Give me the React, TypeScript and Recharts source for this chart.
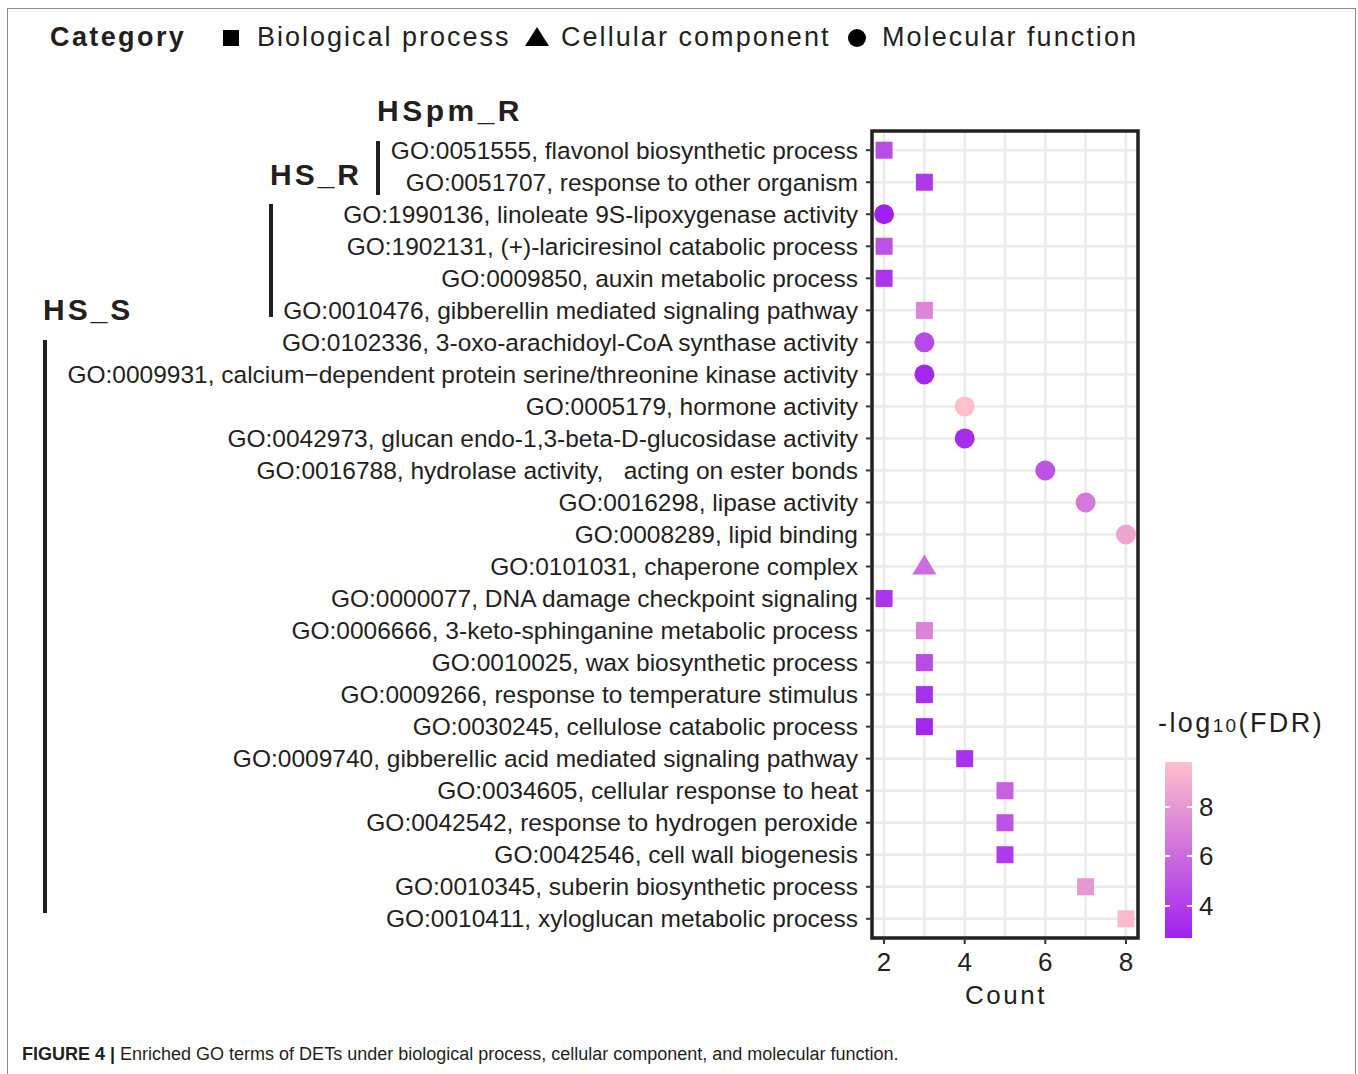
import React from 'react';
import { ScatterChart, Scatter, XAxis, YAxis, CartesianGrid, ReferenceArea } from 'recharts';

// GO terms, top to bottom
const terms = [
  'GO:0051555, flavonol biosynthetic process',
  'GO:0051707, response to other organism',
  'GO:1990136, linoleate 9S-lipoxygenase activity',
  'GO:1902131, (+)-lariciresinol catabolic process',
  'GO:0009850, auxin metabolic process',
  'GO:0010476, gibberellin mediated signaling pathway',
  'GO:0102336, 3-oxo-arachidoyl-CoA synthase activity',
  'GO:0009931, calcium\u2212dependent protein serine/threonine kinase activity',
  'GO:0005179, hormone activity',
  'GO:0042973, glucan endo-1,3-beta-D-glucosidase activity',
  'GO:0016788, hydrolase activity,   acting on ester bonds',
  'GO:0016298, lipase activity',
  'GO:0008289, lipid binding',
  'GO:0101031, chaperone complex',
  'GO:0000077, DNA damage checkpoint signaling',
  'GO:0006666, 3-keto-sphinganine metabolic process',
  'GO:0010025, wax biosynthetic process',
  'GO:0009266, response to temperature stimulus',
  'GO:0030245, cellulose catabolic process',
  'GO:0009740, gibberellic acid mediated signaling pathway',
  'GO:0034605, cellular response to heat',
  'GO:0042542, response to hydrogen peroxide',
  'GO:0042546, cell wall biogenesis',
  'GO:0010345, suberin biosynthetic process',
  'GO:0010411, xyloglucan metabolic process',
];

const counts = [2, 3, 2, 2, 2, 3, 3, 3, 4, 4, 6, 7, 8, 3, 2, 3, 3, 3, 3, 4, 5, 5, 5, 7, 8];

// BP = biological process, CC = cellular component, MF = molecular function
const categories = [
  'BP', 'BP', 'MF', 'BP', 'BP', 'BP', 'MF', 'MF', 'MF', 'MF', 'MF', 'MF', 'MF',
  'CC', 'BP', 'BP', 'BP', 'BP', 'BP', 'BP', 'BP', 'BP', 'BP', 'BP', 'BP',
];

// -log10(FDR)
const fdr = [
  4.6, 3.8, 2.7, 4.9, 3.6, 7.2, 4.5, 3.0, 9.8, 3.2, 4.9, 6.6, 8.6,
  6.1, 3.6, 7.1, 4.6, 3.4, 3.0, 3.4, 5.6, 4.9, 3.9, 8.0, 9.6,
];

const colorTicks = [4, 6, 8];
const xTicks = [2, 3, 4, 5, 6, 7, 8];

const LOW = [160, 32, 240]; // purple
const HIGH = [255, 192, 203]; // pink
const fdrMin = Math.min(...fdr);
const fdrMax = Math.max(...fdr);

function colorFor(v: number) {
  const t = (v - fdrMin) / (fdrMax - fdrMin);
  const c = LOW.map((l, i) => Math.round(l + (HIGH[i] - l) * t));
  return `rgb(${c[0]},${c[1]},${c[2]})`;
}

const rows = terms.map((term, i) => ({
  term,
  y: i,
  x: counts[i],
  cat: categories[i],
  fdr: fdr[i],
}));

const TXT = '#231f20';
const FONT = '"Liberation Sans", Arial, sans-serif';

function Marker(props: any) {
  const { cx, cy, payload } = props;
  const fill = colorFor(payload.fdr);
  if (payload.cat === 'MF') return <circle cx={cx} cy={cy} r={10} fill={fill} />;
  if (payload.cat === 'CC')
    return <polygon points={`${cx},${cy - 12} ${cx - 12},${cy + 8} ${cx + 12},${cy + 8}`} fill={fill} />;
  return <rect x={cx - 8.5} y={cy - 8.5} width={17} height={17} fill={fill} />;
}

function YTick(props: any) {
  const { x, y, payload } = props;
  return (
    <text x={x} y={y} dy="0.35em" textAnchor="end" fontSize={24.5} fill={TXT} style={{ whiteSpace: 'pre' }} fontFamily={FONT}>
      {terms[payload.value]}
    </text>
  );
}

function XTick(props: any) {
  const { x, y, payload } = props;
  if (payload.value % 2 !== 0) return null;
  return (
    <g>
      <line x1={x} x2={x} y1={y - 6} y2={y} stroke="#333" strokeWidth={2} />
      <text x={x} y={y + 27} textAnchor="middle" fontSize={26} fill={TXT} fontFamily={FONT}>
        {payload.value}
      </text>
    </g>
  );
}

const abs = (left: number, top: number, extra: React.CSSProperties = {}): React.CSSProperties => ({
  position: 'absolute',
  left,
  top,
  lineHeight: 1,
  whiteSpace: 'pre',
  color: TXT,
  fontFamily: FONT,
  ...extra,
});

export default function App() {
  const barTop = 762;
  const barH = 176;
  const rowY = (i: number) => 151 + i * 32;

  return (
    <div style={{ position: 'absolute', left: 0, top: 0, width: 1358, height: 1074, background: '#fff', overflow: 'hidden' }}>
      <div style={{ position: 'absolute', left: 7, top: 8, width: 1347, height: 1100, borderTop: '1.5px solid #8a8a8a', borderLeft: '1.5px solid #8a8a8a', borderRight: '1.5px solid #8a8a8a' }} />

      <div style={{ position: 'absolute', left: 0, top: 0 }}>
        <ScatterChart width={1358} height={1074} margin={{ top: 131, right: 220, bottom: 76, left: 0 }}>
          <CartesianGrid stroke="#ebebeb" strokeWidth={2.5} />
          <XAxis
            type="number"
            dataKey="x"
            domain={[1.7, 8.3]}
            ticks={xTicks}
            interval={0}
            allowDataOverflow
            axisLine={false}
            tickLine={false}
            tickSize={6}
            tickMargin={0}
            height={60}
            tick={<XTick />}
          />
          <YAxis
            type="number"
            dataKey="y"
            domain={[-0.6, 24.6]}
            reversed
            ticks={terms.map((_, i) => i)}
            interval={0}
            allowDataOverflow
            axisLine={false}
            tickLine={{ stroke: '#333', strokeWidth: 2 }}
            tickSize={6}
            tickMargin={8}
            width={872}
            tick={<YTick />}
          />
          <Scatter data={rows} shape={<Marker />} isAnimationActive={false} />
          <ReferenceArea x1={1.7} x2={8.3} y1={-0.6} y2={24.6} fill="none" stroke="#222" strokeWidth={3.5} ifOverflow="visible" />
        </ScatterChart>
      </div>

      {/* category legend */}
      <div style={abs(50, 24, { fontSize: 27, fontWeight: 700, letterSpacing: 2.4 })}>Category</div>
      <div style={abs(223, 30, { width: 16, height: 16, background: '#000' })} />
      <div style={abs(257, 24, { fontSize: 27, letterSpacing: 2 })}>Biological process</div>
      <svg style={abs(525, 27)} width={24} height={20}>
        <polygon points="12,0 0,19 24,19" fill="#000" />
      </svg>
      <div style={abs(561, 24, { fontSize: 27, letterSpacing: 2.05 })}>Cellular component</div>
      <div style={abs(848, 29, { width: 18, height: 18, borderRadius: 9, background: '#000' })} />
      <div style={abs(882, 24, { fontSize: 27, letterSpacing: 2.05 })}>Molecular function</div>

      {/* group brackets */}
      <div style={abs(377, 96, { fontSize: 30, fontWeight: 700, letterSpacing: 3.5 })}>HSpm_R</div>
      <div style={abs(376, rowY(0) - 10, { width: 4, height: rowY(1) - rowY(0) + 22, background: TXT })} />
      <div style={abs(270, 160, { fontSize: 30, fontWeight: 700, letterSpacing: 3 })}>HS_R</div>
      <div style={abs(269, rowY(2) - 11, { width: 4, height: rowY(5) - rowY(2) + 17, background: TXT })} />
      <div style={abs(43, 295, { fontSize: 30, fontWeight: 700, letterSpacing: 3 })}>HS_S</div>
      <div style={abs(43, rowY(6) - 3, { width: 4, height: rowY(24) - rowY(6) - 3, background: TXT })} />

      {/* x axis title */}
      <div style={abs(965, 982, { fontSize: 26, letterSpacing: 2.5 })}>Count</div>

      {/* colour bar */}
      <div style={abs(1158, 710, { fontSize: 27, letterSpacing: 2.4 })}>
        -log<span style={{ fontSize: 19 }}>10</span>(FDR)
      </div>
      <div
        style={abs(1165, barTop, {
          width: 27,
          height: barH,
          background: `linear-gradient(to top, ${colorFor(fdrMin)}, ${colorFor(fdrMax)})`,
        })}
      />
      {colorTicks.map((v) => {
        const yy = barTop + barH - ((v - fdrMin) / (fdrMax - fdrMin)) * barH;
        return (
          <React.Fragment key={v}>
            <div style={abs(1165, yy - 1, { width: 5, height: 2, background: '#fff' })} />
            <div style={abs(1187, yy - 1, { width: 5, height: 2, background: '#fff' })} />
            <div style={abs(1199, yy - 13, { fontSize: 26 })}>{v}</div>
          </React.Fragment>
        );
      })}

      {/* caption */}
      <div style={abs(22, 1045, { fontSize: 18 })}>
        <b>FIGURE 4 |</b> Enriched GO terms of DETs under biological process, cellular component, and molecular function.
      </div>
    </div>
  );
}
